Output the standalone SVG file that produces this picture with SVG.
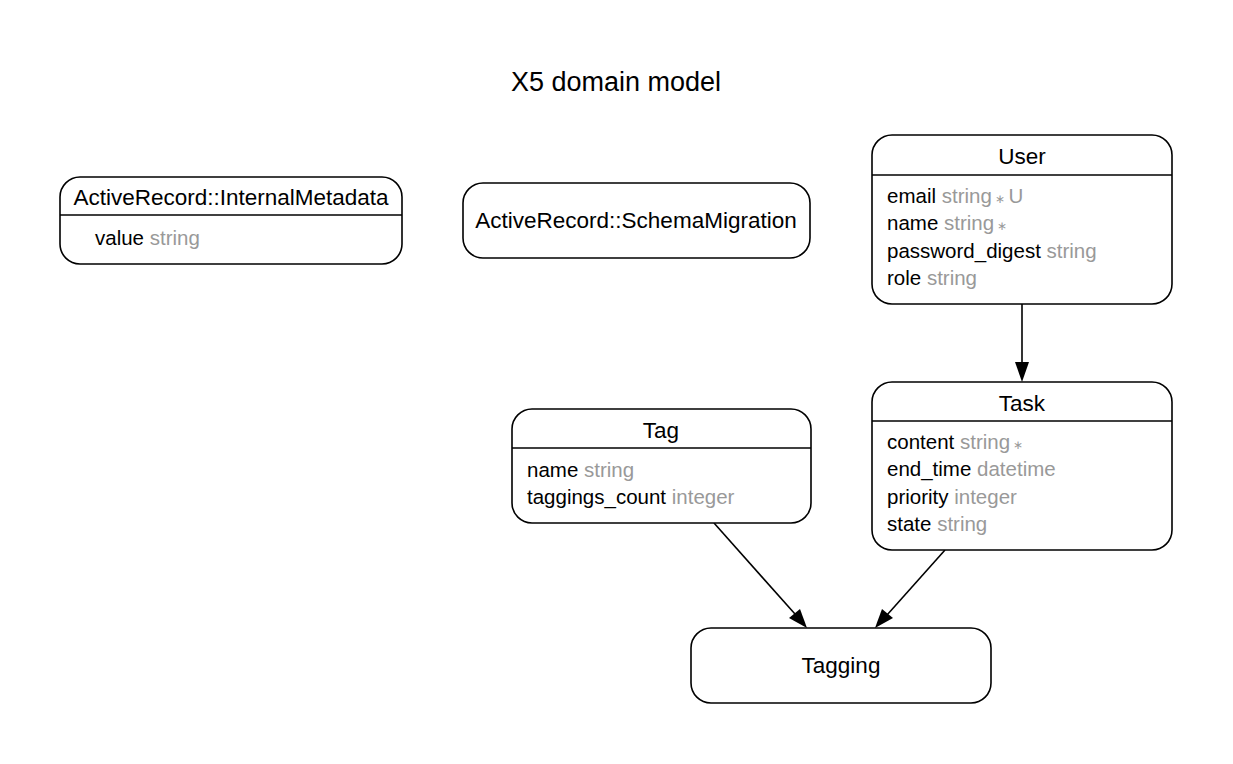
<svg xmlns="http://www.w3.org/2000/svg" width="1233" height="764" viewBox="0 0 1233 764">
<style>
.box{fill:#fff;stroke:#000;stroke-width:1.6}
.sep{stroke:#000;stroke-width:1.6}
.t{font-family:"Liberation Sans",Arial,sans-serif;font-size:22.5px;fill:#000;text-anchor:middle}
.a{font-family:"Liberation Sans",Arial,sans-serif;font-size:20.5px;fill:#000}
.g{fill:#999}
.s{font-size:12px}
.e{stroke:#000;stroke-width:1.6;fill:none}
</style>
<rect width="1233" height="764" fill="#fff"/>
<text x="616" y="91" class="t" style="font-size:27px">X5 domain model</text>
<g id="edges">
<path class="e" d="M1022,304 L1022,364"/>
<path d="M1015,362 L1022,382 L1029,362 z"/>
<path class="e" d="M714,523 L795,614"/>
<path d="M789,618 L807,628 L800,609 z"/>
<path class="e" d="M945,550 L887,615"/>
<path d="M882,609 L875,628 L893,618 z"/>
</g>
<g id="internalmetadata">
<rect class="box" x="60" y="177" width="342" height="87" rx="20"/>
<line class="sep" x1="60" y1="215" x2="402" y2="215"/>
<text class="t" x="231" y="205">ActiveRecord::InternalMetadata</text>
<text class="a" x="95" y="245">value <tspan class="g">string</tspan></text>
</g>
<g id="schemamigration">
<rect class="box" x="463" y="183" width="347" height="75" rx="20"/>
<text class="t" x="636" y="228">ActiveRecord::SchemaMigration</text>
</g>
<g id="user">
<rect class="box" x="872" y="135" width="300" height="169" rx="20"/>
<line class="sep" x1="872" y1="175" x2="1172" y2="175"/>
<text class="t" x="1022" y="164">User</text>
<text class="a" x="887" y="203">email <tspan class="g">string</tspan><tspan class="g s"> ∗ </tspan><tspan class="g">U</tspan></text>
<text class="a" x="887" y="230">name <tspan class="g">string</tspan><tspan class="g s"> ∗</tspan></text>
<text class="a" x="887" y="258">password_digest <tspan class="g">string</tspan></text>
<text class="a" x="887" y="285">role <tspan class="g">string</tspan></text>
</g>
<g id="task">
<rect class="box" x="872" y="382" width="300" height="168" rx="20"/>
<line class="sep" x1="872" y1="421" x2="1172" y2="421"/>
<text class="t" x="1022" y="411">Task</text>
<text class="a" x="887" y="449">content <tspan class="g">string</tspan><tspan class="g s"> ∗</tspan></text>
<text class="a" x="887" y="476">end_time <tspan class="g">datetime</tspan></text>
<text class="a" x="887" y="504">priority <tspan class="g">integer</tspan></text>
<text class="a" x="887" y="531">state <tspan class="g">string</tspan></text>
</g>
<g id="tag">
<rect class="box" x="512" y="409" width="299" height="114" rx="20"/>
<line class="sep" x1="512" y1="448" x2="811" y2="448"/>
<text class="t" x="661" y="438">Tag</text>
<text class="a" x="527" y="477">name <tspan class="g">string</tspan></text>
<text class="a" x="527" y="504">taggings_count <tspan class="g">integer</tspan></text>
</g>
<g id="tagging">
<rect class="box" x="691" y="628" width="300" height="75" rx="20"/>
<text class="t" x="841" y="673">Tagging</text>
</g>
</svg>
